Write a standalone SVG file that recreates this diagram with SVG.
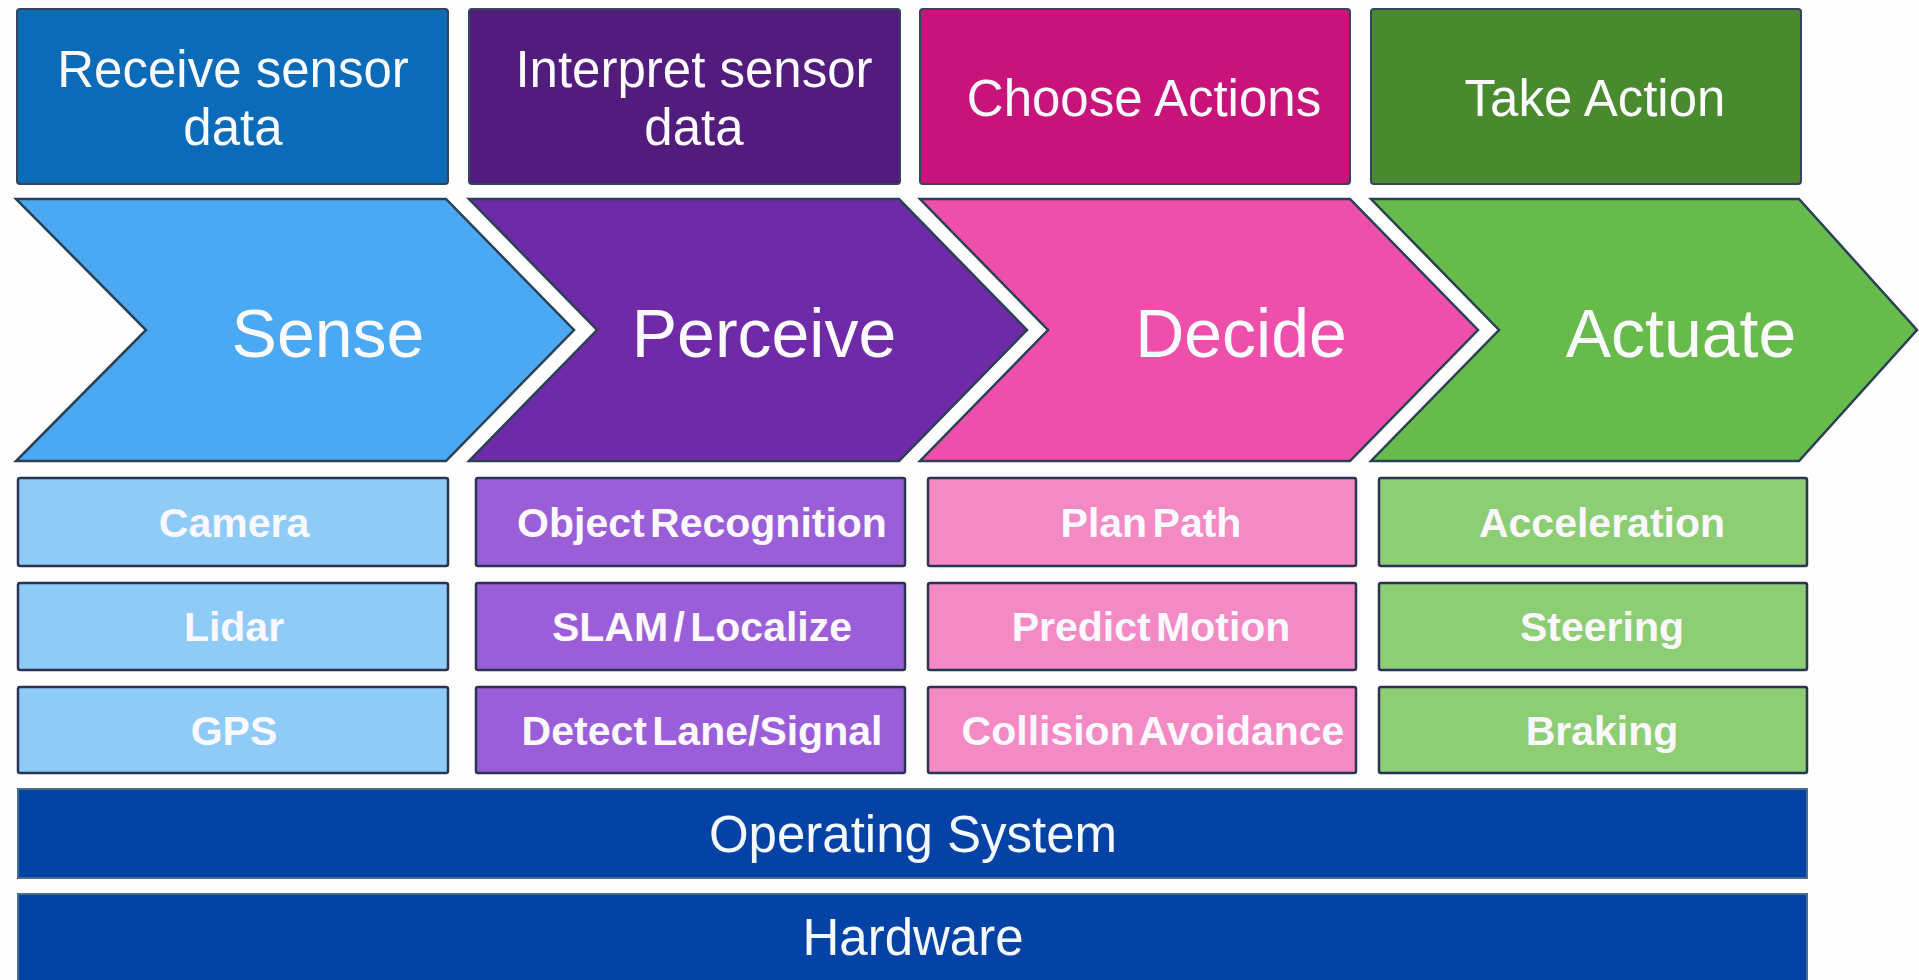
<svg xmlns="http://www.w3.org/2000/svg" width="1919" height="980" viewBox="0 0 1919 980">
  <style>
    .bg { fill: #fefefe; }
    .head { stroke: #34445a; stroke-width: 2; }
    .chev { stroke: #2a4055; stroke-width: 2.5; stroke-linejoin: miter; }
    .sub { stroke: #2b3352; stroke-width: 2.5; }
    .bar { fill: #0443a5; stroke: #4a6d8c; stroke-width: 2; }
    .t-head { font-family: "Liberation Sans", Arial, sans-serif; font-size: 51px; fill: #fbfaff; text-anchor: middle; }
    .t-chev { font-family: "Liberation Sans", Arial, sans-serif; font-size: 68px; fill: #fbfaff; text-anchor: middle; }
    .t-sub { font-family: "Liberation Sans", Arial, sans-serif; font-size: 41px; font-weight: bold; fill: #fbf8ff; text-anchor: middle; word-spacing: -6px; }
    .t-bar { font-family: "Liberation Sans", Arial, sans-serif; font-size: 51px; fill: #f4f9ff; text-anchor: middle; }
  </style>

  <rect class="bg" x="0" y="0" width="1919" height="980"/>

  <!-- Stage headers -->
  <g id="head-receive">
    <rect class="head" x="17" y="9" width="431" height="175" rx="3" fill="#0b6bb8"/>
    <text class="t-head" x="233" y="87">Receive sensor</text>
    <text class="t-head" x="233" y="145">data</text>
  </g>
  <g id="head-interpret">
    <rect class="head" x="469" y="9" width="431" height="175" rx="3" fill="#521c7c"/>
    <text class="t-head" x="694" y="87">Interpret sensor</text>
    <text class="t-head" x="694" y="145">data</text>
  </g>
  <g id="head-choose">
    <rect class="head" x="920" y="9" width="430" height="175" rx="3" fill="#c8147a"/>
    <text class="t-head" x="1144" y="116">Choose Actions</text>
  </g>
  <g id="head-take">
    <rect class="head" x="1371" y="9" width="430" height="175" rx="3" fill="#4a8a2f"/>
    <text class="t-head" x="1595" y="116">Take Action</text>
  </g>

  <!-- Pipeline chevrons -->
  <g id="stage-sense">
    <polygon class="chev" fill="#4aa9f2" points="16,199 446,199 574,330 446,461 16,461 146,330"/>
    <text class="t-chev" x="328" y="357">Sense</text>
  </g>
  <g id="stage-perceive">
    <polygon class="chev" fill="#6e2aa7" points="469,199 899,199 1027,330 899,461 469,461 597,330"/>
    <text class="t-chev" x="764" y="357">Perceive</text>
  </g>
  <g id="stage-decide">
    <polygon class="chev" fill="#ee4fab" points="920,199 1350,199 1478,330 1350,461 920,461 1048,330"/>
    <text class="t-chev" x="1241" y="357">Decide</text>
  </g>
  <g id="stage-actuate">
    <polygon class="chev" fill="#66bb4b" points="1371,199 1799,199 1917,330 1799,461 1371,461 1499,330"/>
    <text class="t-chev" x="1681" y="357">Actuate</text>
  </g>

  <!-- Sense components -->
  <g id="sense-camera">
    <rect class="sub" x="18" y="478" width="430" height="88" rx="2" fill="#8fcbf7"/>
    <text class="t-sub" x="234" y="537">Camera</text>
  </g>
  <g id="sense-lidar">
    <rect class="sub" x="18" y="583" width="430" height="87" rx="2" fill="#8fcbf7"/>
    <text class="t-sub" x="234" y="641">Lidar</text>
  </g>
  <g id="sense-gps">
    <rect class="sub" x="18" y="687" width="430" height="86" rx="2" fill="#8fcbf7"/>
    <text class="t-sub" x="234" y="745">GPS</text>
  </g>

  <!-- Perceive components -->
  <g id="perceive-object">
    <rect class="sub" x="476" y="478" width="429" height="88" rx="2" fill="#9b5ed9"/>
    <text class="t-sub" x="702" y="537">Object Recognition</text>
  </g>
  <g id="perceive-slam">
    <rect class="sub" x="476" y="583" width="429" height="87" rx="2" fill="#9b5ed9"/>
    <text class="t-sub" x="702" y="641">SLAM / Localize</text>
  </g>
  <g id="perceive-lane">
    <rect class="sub" x="476" y="687" width="429" height="86" rx="2" fill="#9b5ed9"/>
    <text class="t-sub" x="702" y="745">Detect Lane/Signal</text>
  </g>

  <!-- Decide components -->
  <g id="decide-plan">
    <rect class="sub" x="928" y="478" width="428" height="88" rx="2" fill="#f38ac4"/>
    <text class="t-sub" x="1151" y="537">Plan Path</text>
  </g>
  <g id="decide-predict">
    <rect class="sub" x="928" y="583" width="428" height="87" rx="2" fill="#f38ac4"/>
    <text class="t-sub" x="1151" y="641">Predict Motion</text>
  </g>
  <g id="decide-collision">
    <rect class="sub" x="928" y="687" width="428" height="86" rx="2" fill="#f38ac4"/>
    <text class="t-sub" x="1153" y="745">Collision Avoidance</text>
  </g>

  <!-- Actuate components -->
  <g id="actuate-accel">
    <rect class="sub" x="1379" y="478" width="428" height="88" rx="2" fill="#8dcd74"/>
    <text class="t-sub" x="1602" y="537">Acceleration</text>
  </g>
  <g id="actuate-steer">
    <rect class="sub" x="1379" y="583" width="428" height="87" rx="2" fill="#8dcd74"/>
    <text class="t-sub" x="1602" y="641">Steering</text>
  </g>
  <g id="actuate-brake">
    <rect class="sub" x="1379" y="687" width="428" height="86" rx="2" fill="#8dcd74"/>
    <text class="t-sub" x="1602" y="745">Braking</text>
  </g>

  <!-- Platform layers -->
  <g id="layer-os">
    <rect class="bar" x="18" y="789" width="1789" height="89"/>
    <text class="t-bar" x="913" y="852">Operating System</text>
  </g>
  <g id="layer-hardware">
    <rect class="bar" x="18" y="894" width="1789" height="90"/>
    <text class="t-bar" x="913" y="955">Hardware</text>
  </g>

  <!-- No connectors: stages abut as chevrons -->
  <g id="connectors"/>
</svg>
